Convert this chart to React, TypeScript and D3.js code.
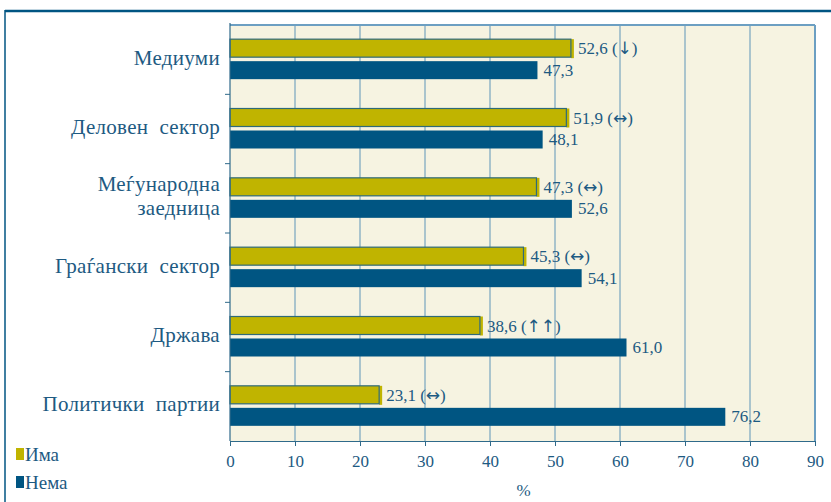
import React, { useEffect, useRef } from 'react';
import * as d3 from 'd3';

const categories = ['Медиуми', 'Деловен  сектор', 'Меѓународна\nзаедница', 'Граѓански  сектор', 'Држава', 'Политички  партии'];
const imaValues = [52.6, 51.9, 47.3, 45.3, 38.6, 23.1];
const nemaValues = [47.3, 48.1, 52.6, 54.1, 61.0, 76.2];
const trends = ['↓', '↔', '↔', '↔', '↑↑', '↔'];
const xTicks = [0, 10, 20, 30, 40, 50, 60, 70, 80, 90];
const seriesNames = ['Има', 'Нема'];

const W = 831;
const H = 502;
const PLOT = { left: 230, right: 815, top: 25, bottom: 441 };
const TEXT = '#1d5a82';
const GRID = '#5f95b8';
const IMA = '#c0b400';
const NEMA = '#005582';
const FONT = '"Liberation Serif", "DejaVu Serif", serif';
const ARROW_FONT = '"DejaVu Sans", sans-serif';

const fmt = (v: number) => v.toFixed(1).replace('.', ',');

const App = () => {
  const svgRef = useRef<SVGSVGElement | null>(null);

  useEffect(() => {
    if (!svgRef.current) return;
    const svg = d3.select(svgRef.current);
    svg.selectAll('*').remove();

    const x = d3.scaleLinear().domain([0, 90]).range([PLOT.left, PLOT.right]);
    const y = d3.scaleBand<string>().domain(categories).range([PLOT.top, PLOT.bottom]);

    // outer frame
    svg.append('line').attr('x1', 5).attr('x2', W).attr('y1', 11).attr('y2', 11)
      .attr('stroke', '#005582').attr('stroke-width', 2.5);
    svg.append('line').attr('x1', 5).attr('x2', 5).attr('y1', 10).attr('y2', H)
      .attr('stroke', '#005582').attr('stroke-width', 1.5);

    // plot background
    svg.append('rect')
      .attr('x', PLOT.left).attr('y', PLOT.top)
      .attr('width', PLOT.right - PLOT.left).attr('height', PLOT.bottom - PLOT.top)
      .attr('fill', '#f6f3e1');

    // vertical grid
    svg.append('g').selectAll('line')
      .data(xTicks.slice(1, -1))
      .enter().append('line')
      .attr('x1', d => x(d)).attr('x2', d => x(d))
      .attr('y1', PLOT.top).attr('y2', PLOT.bottom)
      .attr('stroke', GRID).attr('stroke-width', 1);

    // top and right border
    svg.append('line').attr('x1', PLOT.left).attr('x2', PLOT.right)
      .attr('y1', PLOT.top).attr('y2', PLOT.top)
      .attr('stroke', '#6c9fc2').attr('stroke-width', 2);
    svg.append('line').attr('x1', PLOT.right).attr('x2', PLOT.right)
      .attr('y1', PLOT.top).attr('y2', PLOT.bottom)
      .attr('stroke', '#6c9fc2').attr('stroke-width', 2);

    const barH = 18;
    const band = svg.append('g');

    categories.forEach((c, i) => {
      const y0 = y(c)!;
      const mid = y0 + y.bandwidth() / 2;

      // small yellow edge to the right of the outlined bar
      band.append('rect')
        .attr('x', x(imaValues[i]) - 1).attr('y', mid - barH - 2.5)
        .attr('width', 3).attr('height', barH + 1)
        .attr('fill', IMA);
      band.append('rect')
        .attr('x', x(0)).attr('y', mid - barH - 2.5)
        .attr('width', x(imaValues[i]) - x(0) - 1).attr('height', barH)
        .attr('fill', IMA).attr('stroke', '#2f6a78').attr('stroke-width', 1.2);
      band.append('rect')
        .attr('x', x(0)).attr('y', mid + 1.5)
        .attr('width', x(nemaValues[i]) - x(0)).attr('height', barH)
        .attr('fill', NEMA);

      const lab = band.append('text')
        .attr('x', x(imaValues[i]) + 6).attr('y', mid - barH / 2 - 2.5)
        .attr('dominant-baseline', 'central')
        .attr('fill', TEXT).attr('font-size', 17).attr('font-family', FONT)
        .style('white-space', 'pre');
      lab.append('tspan').text(`${fmt(imaValues[i])} (`);
      lab.append('tspan').attr('font-family', ARROW_FONT).attr('font-size', 17).text(trends[i]);
      lab.append('tspan').text(')');

      band.append('text')
        .attr('x', x(nemaValues[i]) + 6).attr('y', mid + barH / 2 + 1.5)
        .attr('dominant-baseline', 'central')
        .attr('fill', TEXT).attr('font-size', 17).attr('font-family', FONT)
        .text(fmt(nemaValues[i]));

      const lines = c.split('\n');
      const t = band.append('text')
        .attr('text-anchor', 'end')
        .attr('fill', TEXT).attr('font-size', 21).attr('font-family', FONT)
        .attr('letter-spacing', 0.3)
        .style('white-space', 'pre');
      lines.forEach((ln, j) => {
        t.append('tspan')
          .attr('x', 220)
          .attr('y', mid - 2 - (lines.length - 1) * 12 + j * 24)
          .attr('dominant-baseline', 'central')
          .text(ln);
      });
    });

    // category ticks on left axis
    svg.append('g').selectAll('line')
      .data(categories.slice(1))
      .enter().append('line')
      .attr('x1', PLOT.left - 5).attr('x2', PLOT.left)
      .attr('y1', d => y(d)!).attr('y2', d => y(d)!)
      .attr('stroke', '#2f6a8a');

    // left axis
    svg.append('line').attr('x1', PLOT.left).attr('x2', PLOT.left)
      .attr('y1', PLOT.top - 2).attr('y2', PLOT.bottom)
      .attr('stroke', '#2f6a8a').attr('stroke-width', 1.2);

    // bottom axis
    const xAxis = d3.axisBottom(x).tickValues(xTicks).tickSize(5).tickSizeOuter(0).tickFormat(d => `${d}`);
    const ax = svg.append('g').attr('transform', `translate(0, ${PLOT.bottom})`).call(xAxis);
    ax.select('.domain').attr('stroke', '#2f6a8a').attr('stroke-width', 1.2);
    ax.selectAll('.tick line').attr('stroke', '#2f6a8a');
    ax.selectAll('.tick text')
      .attr('fill', TEXT).attr('font-size', 17).attr('font-family', FONT).attr('dy', '1.05em');

    svg.append('text')
      .attr('x', (PLOT.left + PLOT.right) / 2 + 1).attr('y', 496)
      .attr('text-anchor', 'middle')
      .attr('fill', TEXT).attr('font-size', 17).attr('font-family', FONT)
      .text('%');

    // legend
    const colors = [IMA, NEMA];
    seriesNames.forEach((s, i) => {
      const ly = 454 + i * 28;
      svg.append('rect').attr('x', 16).attr('y', ly - 6).attr('width', 8).attr('height', 12)
        .attr('fill', colors[i]);
      svg.append('text').attr('x', 25).attr('y', ly)
        .attr('dominant-baseline', 'central')
        .attr('fill', TEXT).attr('font-size', 19).attr('font-family', FONT)
        .text(s);
    });
  }, []);

  return (
    <div style={{ position: 'fixed', left: 0, top: 0, width: W, height: H, background: '#fff' }}>
      <svg ref={svgRef} width={W} height={H} />
    </div>
  );
};

export default App;
